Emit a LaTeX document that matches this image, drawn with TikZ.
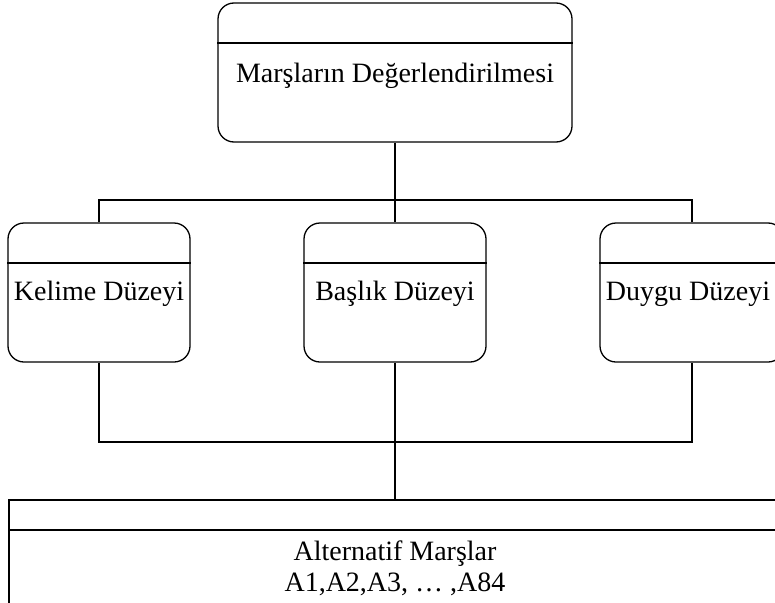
\documentclass[tikz,border=0pt]{standalone}
\usepackage{fontspec}
\setmainfont{Liberation Serif}
\begin{document}
\begin{tikzpicture}[x=1pt,y=-1pt,
  box/.style={draw, line width=1.3pt, rounded corners=16pt, inner sep=0pt},
  sqbox/.style={draw, line width=1.3pt, inner sep=0pt},
  lbl/.style={font=\fontsize{28}{31}\selectfont, inner sep=0pt, anchor=base},
  conn/.style={line width=1.3pt}]
\useasboundingbox (0,0) rectangle (775,602);
\clip (0,0) rectangle (775,602);
% boxes
\node[box, minimum width=354pt, minimum height=139pt] (top) at (395,72.5) {};
\node[box, minimum width=182pt, minimum height=139pt] (kel) at (99,292.5) {};
\node[box, minimum width=182pt, minimum height=139pt] (bas) at (395,292.5) {};
\node[box, minimum width=184pt, minimum height=139pt] (duy) at (692,292.5) {};
\node[sqbox, minimum width=772pt, minimum height=140pt] (alt) at (395,570) {};
% dividers
\draw[conn] (top.west |- 0,43) -- (top.east |- 0,43);
\draw[conn] (kel.west |- 0,263) -- (kel.east |- 0,263);
\draw[conn] (bas.west |- 0,263) -- (bas.east |- 0,263);
\draw[conn] (duy.west |- 0,263) -- (duy.east |- 0,263);
\draw[conn] (alt.west |- 0,530) -- (alt.east |- 0,530);
% labels
\node[lbl] (ttop) at (395,82) {Marşların Değerlendirilmesi};
\node[lbl] (tkel) at (99,300) {Kelime Düzeyi};
\node[lbl] (tbas) at (395,300) {Başlık Düzeyi};
\node[lbl] (tduy) at (688,300) {Duygu Düzeyi};
\node[lbl, align=center, anchor=north] (talt) at (395,541) {Alternatif Marşlar\\A1,A2,A3, … ,A84};
% connectors
\coordinate (bus1) at (395,200);
\coordinate (bus2) at (395,442);
\draw[conn] (top.south) -- (bas.north);
\draw[conn] (kel.north) |- (bus1) -| (duy.north);
\draw[conn] (kel.south) |- (bus2) -| (duy.south);
\draw[conn] (bas.south) -- (alt.north);
\end{tikzpicture}
\end{document}
